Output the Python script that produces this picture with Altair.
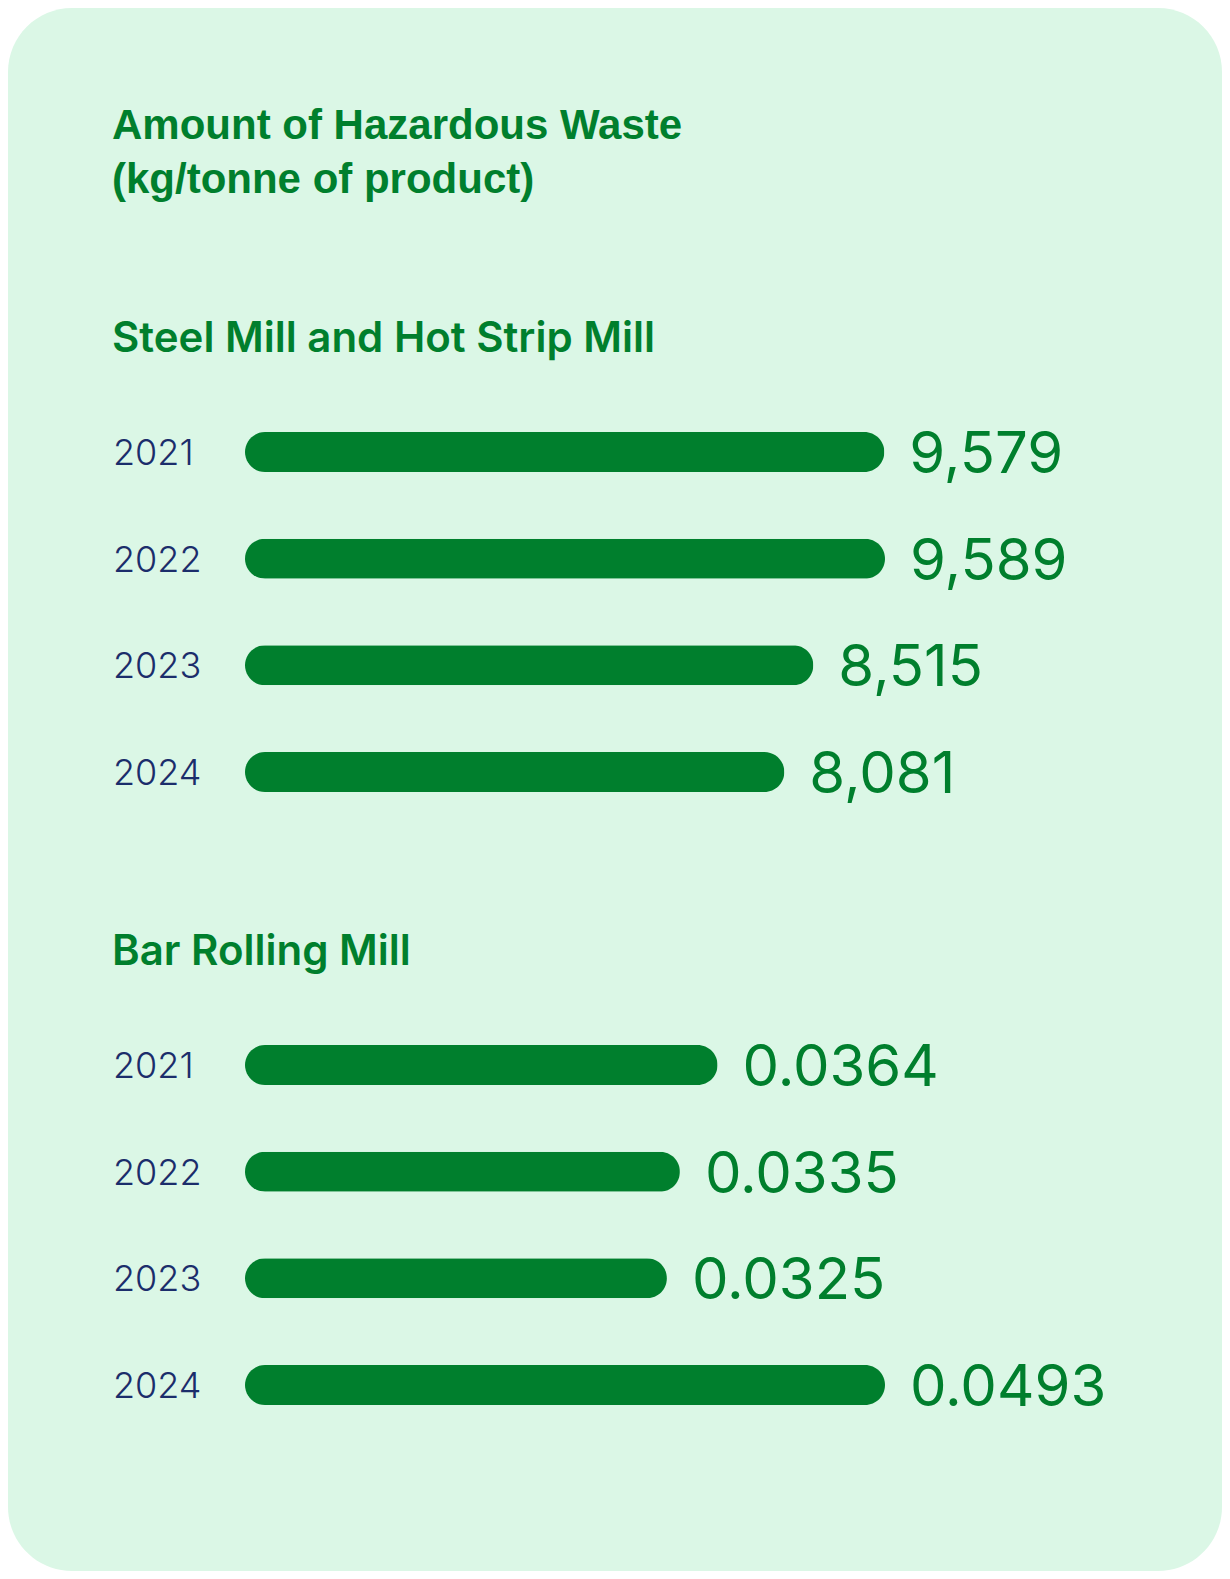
import altair as alt
import pandas as pd

# ---- data ----
years = ["2021", "2022", "2023", "2024"]
steel_values = [9579, 9589, 8515, 8081]
bar_values = [0.0364, 0.0335, 0.0325, 0.0493]

title_lines = ["Amount of Hazardous Waste", "(kg/tonne of product)"]
panel_titles = ["Steel Mill and Hot Strip Mill", "Bar Rolling Mill"]

GREEN = "#007f2d"
BG = "#dbf7e6"
NAVY = "#1b2d6b"

W, H = 1214, 1563


def text_layer(txt, x, y, size, weight, font, lh=None):
    props = dict(align="left", baseline="alphabetic", fontSize=size, fontWeight=weight,
                 font=font, color=GREEN)
    if lh is not None:
        props["lineHeight"] = lh
    return alt.Chart(pd.DataFrame({"t": [txt]})).mark_text(**props).encode(
        text="t:N", x=alt.value(x), y=alt.value(y)
    )


def panel(values, yrange, fmt):
    df = pd.DataFrame({"year": years, "value": values})
    xs = alt.Scale(domain=[0, max(values)], range=[237, 877], nice=False, zero=True)
    ys = alt.Scale(type="point", domain=years, range=yrange, padding=0)
    base = alt.Chart(df).encode(y=alt.Y("year:O", scale=ys, axis=None))
    bars = base.mark_bar(size=40, cornerRadius=20, color=GREEN).encode(
        x=alt.X("value:Q", scale=xs, axis=None)
    )
    vals = base.mark_text(
        align="left", baseline="alphabetic", dx=25, dy=21, fontSize=58,
        font="Inter", fontWeight=400, color=GREEN
    ).encode(
        x=alt.X("value:Q", scale=xs, axis=None),
        text=alt.Text("value:Q", format=fmt),
    )
    yrs = base.mark_text(
        align="left", baseline="alphabetic", dx=-132, dy=13, fontSize=36,
        font="Inter", fontWeight=300, color=NAVY
    ).encode(
        x=alt.datum(0, type="quantitative", scale=xs, axis=None),
        text="year:N",
    )
    return alt.layer(bars, vals, yrs)


main_title = text_layer(title_lines, 104, 131, 42, "bold", "Liberation Sans", lh=54)
sub1 = text_layer(panel_titles[0], 104, 344, 42, 600, "Inter")
sub2 = text_layer(panel_titles[1], 104, 957, 42, 600, "Inter")

p1 = panel(steel_values, [444, 764], ",")
p2 = panel(bar_values, [1057, 1377], ".4f")

chart = (
    alt.layer(main_title, sub1, sub2, p1, p2)
    .resolve_scale(x="independent", y="independent")
    .properties(width=W, height=H, padding=0, autosize="none", background="white")
    .configure_view(fill=BG, cornerRadius=64, strokeWidth=0)
)

chart.save("out.html", embed_options={"renderer": "svg", "actions": False})
